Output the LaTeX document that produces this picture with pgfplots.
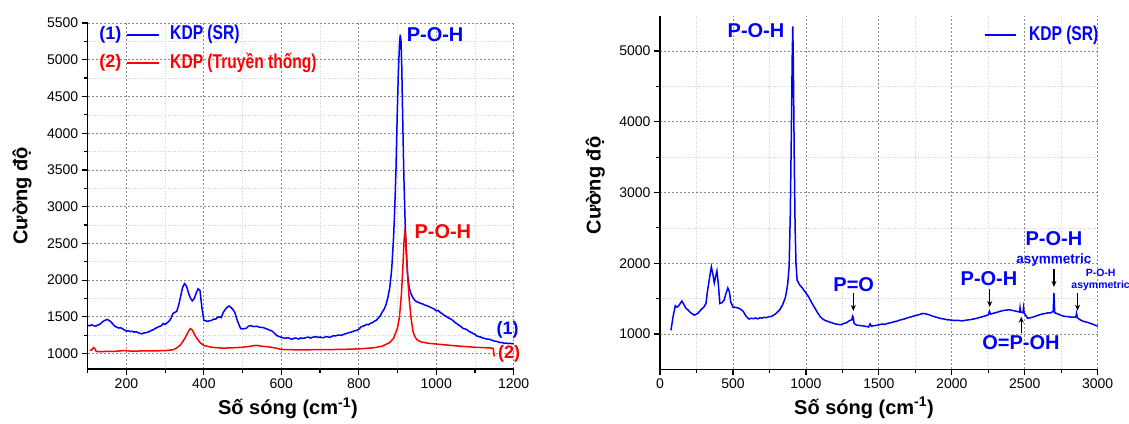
\documentclass[border=0pt]{standalone}
\usepackage{pgfplots}
\pgfplotsset{compat=1.18}
\usepackage{fontspec}
\setmainfont{Liberation Sans}
\newfontfamily\narrowfont[FakeStretch=0.78]{Liberation Sans}
\usetikzlibrary{arrows.meta}
\definecolor{ablue}{RGB}{0,0,255}
\definecolor{ared}{RGB}{255,0,0}
\pgfplotsset{
  myaxis/.style={
    scale only axis,
    axis x line*=bottom, axis y line*=left,
    axis line style={line width=1.3pt, black, -},
    tick align=outside,
    major tick length=6pt, minor tick length=4pt,
    every tick/.style={black, line width=1.2pt},
    grid=both,
    major grid style={gray!90, line width=0.8pt, dash pattern=on 2pt off 2pt},
    minor grid style={gray!35, line width=0.6pt, dash pattern=on 1pt off 1.5pt},
    tick label style={font=\fontsize{14}{14}\selectfont},
    /pgf/number format/assume math mode=true,
    /pgf/number format/set thousands separator={},
    label style={font=\bfseries\fontsize{20}{20}\selectfont},
    clip=false,
  },
}
\tikzset{
  lbl/.style={font=\bfseries\fontsize{20}{20}\selectfont, text=ablue},
  arr/.style={-{Stealth[length=6pt,width=5pt]}, line width=1.2pt, black},
  leg/.style={font=\narrowfont\bfseries\fontsize{20}{20}\selectfont},
}
\begin{document}
\begin{tikzpicture}
\useasboundingbox (0pt,0pt) rectangle (1129pt,-423pt);
% ---------------- LEFT PANEL ----------------
\begin{axis}[myaxis,
  at={(87.7pt,-369pt)}, anchor=south west,
  width=426pt, height=346pt,
  xmin=100, xmax=1200, ymin=790, ymax=5500,
  xtick={200,400,...,1200}, minor xtick={100,300,...,1100},
  ytick={1000,1500,...,5500}, minor ytick={1250,1750,...,5250},
  xlabel={Số sóng (cm\textsuperscript{-1})},
  ylabel={Cường độ},
  xlabel style={at={(axis description cs:0.47,-0.113)}, anchor=center},
  ylabel style={at={(axis description cs:-0.154,0.5)}, anchor=center},
]
\addplot[ablue, line width=1.5pt] coordinates {
(100,1385)(105,1378)(110,1392)(115,1380)(120,1372)(125,1386)(130,1395)(140,1440)(150,1465)(155,1452)(160,1432)(170,1372)(175,1360)(180,1348)(185,1352)(190,1338)
(200,1305)(205,1312)(210,1298)(215,1304)(220,1292)(225,1298)(230,1285)(235,1276)(240,1268)(245,1280)(250,1284)(255,1292)(260,1300)(265,1318)(270,1326)(275,1344)(280,1356)(285,1370)(290,1378)(295,1410)
(300,1396)(305,1420)(310,1440)(315,1478)(320,1545)(325,1560)(330,1575)(335,1660)(340,1780)(345,1900)(350,1952)(355,1920)(360,1830)(365,1758)
(370,1718)(375,1750)(380,1820)(385,1882)(390,1858)(395,1620)(400,1452)(405,1446)(410,1438)(415,1448)(420,1452)(425,1470)(430,1468)(435,1490)
(440,1502)(445,1490)(450,1560)(455,1600)(460,1630)(465,1648)(470,1628)(475,1600)(480,1560)(485,1470)(490,1400)(495,1340)(500,1336)(505,1340)(510,1346)(515,1372)
(520,1382)(525,1372)(530,1368)(535,1372)(540,1366)(545,1356)(550,1358)(555,1350)(560,1340)(565,1330)(570,1318)(575,1310)(580,1288)(585,1262)(590,1240)(595,1232)(600,1220)(605,1214)(610,1208)(615,1216)
(620,1212)(625,1196)(630,1200)(635,1212)(640,1208)(645,1198)(650,1214)(655,1206)(660,1212)(665,1220)(670,1224)(675,1212)(680,1222)(685,1226)(690,1230)(695,1220)(700,1226)(705,1216)(710,1218)(715,1232)
(720,1228)(725,1220)(730,1232)(735,1244)(740,1240)(745,1250)(750,1252)(755,1248)(760,1260)(765,1270)(770,1275)(775,1286)(780,1292)(785,1302)(790,1310)(795,1318)(800,1330)(805,1360)(810,1372)(815,1380)
(820,1398)(825,1392)(830,1412)(835,1420)(840,1440)(845,1452)(850,1482)(855,1510)(860,1560)(865,1600)(870,1660)(875,1760)(880,1900)(885,2150)
(890,2600)(893,3000)(896,3500)(899,4200)(902,4800)(905,5200)(907,5340)(909,5250)(911,4900)(913,4300)
(916,3500)(919,2900)(922,2450)(926,2080)(930,1900)(935,1810)(940,1760)(945,1722)(950,1705)(955,1696)(960,1682)(965,1676)(970,1660)(975,1654)
(980,1642)(985,1630)(990,1618)(995,1604)(1000,1582)(1005,1588)(1010,1560)(1015,1546)(1020,1522)(1025,1510)(1030,1488)(1035,1478)(1040,1462)(1045,1440)(1050,1418)(1055,1400)(1060,1382)
(1065,1362)(1070,1340)(1075,1336)(1080,1322)(1085,1300)(1090,1290)(1095,1272)(1100,1262)(1105,1240)(1110,1230)(1115,1226)(1120,1212)(1125,1206)(1130,1198)(1135,1196)(1140,1190)(1145,1180)(1150,1170)
(1155,1166)(1160,1160)(1165,1148)(1170,1152)(1175,1138)(1180,1144)(1185,1136)(1190,1140)(1195,1134)(1200,1138)
};
\addplot[ared, line width=1.5pt] coordinates {
(105,1042)(110,1048)(115,1082)(118,1070)(122,1030)(130,1025)(150,1030)(170,1030)(190,1040)(200,1040)
(210,1034)(250,1036)(280,1038)(300,1040)(320,1052)(330,1078)(340,1120)(350,1200)(360,1300)(365,1340)
(370,1320)(380,1222)(390,1150)(400,1110)(420,1085)(450,1074)(480,1080)(500,1086)(520,1100)(535,1112)
(550,1100)(570,1090)(590,1070)(600,1056)(650,1050)(700,1054)(750,1056)(800,1064)(840,1080)(860,1100)
(880,1150)(890,1210)(900,1350)(905,1500)(910,1800)(914,2200)(917,2550)(919,2660)(921,2600)(924,2250)
(927,1980)(930,1750)(935,1480)(940,1300)(945,1230)(950,1190)(960,1160)(980,1140)(1000,1130)(1050,1105)
(1100,1086)(1140,1076)(1147,1070)(1150,960)
};
% legend
\node[anchor=east, font=\bfseries\fontsize{18}{18}\selectfont, text=ablue] at (axis cs:196,5341) {(1)};
\draw[ablue, line width=1.8pt] (axis cs:201,5341) -- (axis cs:284,5341);
\node[anchor=west, leg, text=ablue] at (axis cs:304,5341) {KDP (SR)};
\node[anchor=east, font=\bfseries\fontsize{18}{18}\selectfont, text=ared] at (axis cs:196,4955) {(2)};
\draw[ared, line width=1.8pt] (axis cs:201,4955) -- (axis cs:284,4955);
\node[anchor=west, leg, text=ared] at (axis cs:304,4955) {KDP (Truyền thống)};
% labels
\node[lbl] at (axis cs:997,5347) {P-O-H};
\node[lbl, text=ared] at (axis cs:1017,2659) {P-O-H};
\node[font=\bfseries\fontsize{18}{18}\selectfont, text=ablue] at (axis cs:1184,1318) {(1)};
\node[font=\bfseries\fontsize{18}{18}\selectfont, text=ared] at (axis cs:1188,990) {(2)};
\end{axis}
% ---------------- RIGHT PANEL ----------------
\begin{axis}[myaxis,
  at={(660pt,-369.3pt)}, anchor=south west,
  width=437.7pt, height=353.6pt,
  xmin=0, xmax=3000, ymin=500, ymax=5500,
  xtick={0,500,...,3000}, minor xtick={250,750,...,2750},
  ytick={1000,2000,...,5000}, minor ytick={1500,2500,...,4500},
  xlabel={Số sóng (cm\textsuperscript{-1})},
  ylabel={Cường độ},
  xlabel style={at={(axis description cs:0.466,-0.109)}, anchor=center},
  ylabel style={at={(axis description cs:-0.148,0.52)}, anchor=center},
]
\addplot[ablue, line width=1.5pt] coordinates {
(75,1050)(90,1250)(105,1400)(115,1380)(125,1392)(135,1420)(150,1465)(160,1430)(175,1370)(190,1342)
(210,1300)(235,1265)(260,1292)(280,1340)(300,1380)(315,1430)(325,1600)(340,1800)(352,1950)(362,1850)
(372,1720)(380,1800)(390,1890)(400,1700)(410,1430)(425,1442)(440,1480)(450,1560)(465,1650)(475,1600)
(485,1450)(500,1380)(520,1376)(545,1360)(570,1320)(590,1250)(610,1210)(625,1222)(640,1216)(655,1226)
(670,1214)(685,1228)(700,1224)(715,1236)(730,1230)(745,1244)(760,1246)(775,1262)(790,1280)(805,1310)
(820,1340)(840,1410)(860,1520)(875,1700)(885,1950)(893,2700)(900,3800)(906,4900)(910,5350)(914,4800)
(920,3500)(926,2500)(932,2000)(940,1760)(955,1700)(975,1650)(1000,1580)(1020,1520)(1040,1440)
(1060,1370)(1080,1300)(1100,1240)(1115,1212)(1130,1192)(1145,1182)(1160,1170)(1180,1156)(1200,1142)
(1220,1136)(1240,1130)(1260,1148)(1280,1160)(1300,1190)(1315,1200)(1320,1252)(1325,1232)(1330,1150)
(1345,1128)(1360,1120)(1380,1118)(1400,1110)(1420,1104)(1430,1098)(1440,1142)(1450,1108)(1465,1118)
(1480,1120)(1500,1128)(1520,1140)(1540,1136)(1560,1150)(1580,1158)(1600,1170)(1625,1182)(1650,1200)
(1675,1212)(1700,1230)(1725,1244)(1750,1260)(1775,1272)(1800,1290)(1815,1286)(1830,1280)(1850,1266)
(1870,1250)(1895,1236)(1920,1220)(1945,1212)(1970,1200)(1995,1196)(2020,1190)(2045,1192)(2070,1185)
(2095,1194)(2120,1200)(2145,1210)(2170,1220)(2195,1236)(2220,1250)(2250,1270)(2258,1320)(2265,1280)
(2280,1290)(2300,1300)(2325,1316)(2350,1330)(2375,1338)(2400,1340)(2420,1330)(2440,1322)(2465,1310)
(2468,1370)(2472,1310)(2488,1300)(2492,1370)(2496,1300)(2510,1250)(2520,1222)(2540,1230)(2560,1240)
(2580,1256)(2600,1270)(2620,1282)(2640,1290)(2660,1298)(2680,1300)(2695,1320)(2700,1580)(2705,1300)
(2715,1292)(2730,1280)(2750,1262)(2770,1250)(2790,1246)(2810,1240)(2830,1236)(2850,1240)(2855,1290)
(2860,1230)(2880,1200)(2900,1180)(2925,1166)(2950,1150)(2975,1130)(3000,1110)
};
% legend
\draw[ablue, line width=1.8pt] (axis cs:2225,5223) -- (axis cs:2442,5223);
\node[anchor=west, leg, text=ablue] at (axis cs:2505,5223) {KDP (SR)};
% annotations
\node[lbl] at (axis cs:658,5294) {P-O-H};
\node[lbl] at (axis cs:1328,1692) {P=O};
\draw[arr] (axis cs:1325,1579) -- (axis cs:1325,1325);
\node[lbl] at (axis cs:2255,1777) {P-O-H};
\draw[arr] (axis cs:2260,1635) -- (axis cs:2260,1381);
\node[lbl] at (axis cs:2700,2342) {P-O-H};
\node[font=\bfseries\fontsize{13.5}{13.5}\selectfont, text=ablue] at (axis cs:2700,2045) {asymmetric};
\draw[arr] (axis cs:2700,1918) -- (axis cs:2700,1664);
\node[font=\bfseries\fontsize{10.5}{10.5}\selectfont, text=ablue] at (axis cs:3020,1866) {P-O-H};
\node[font=\bfseries\fontsize{10.5}{10.5}\selectfont, text=ablue] at (axis cs:3020,1678) {asymmetric};
\draw[arr] (axis cs:2862,1583) -- (axis cs:2862,1329);
\node[lbl] at (axis cs:2474,873) {O=P-OH};
\draw[arr] (axis cs:2476,1014) -- (axis cs:2476,1244);
\end{axis}
\end{tikzpicture}
\end{document}
